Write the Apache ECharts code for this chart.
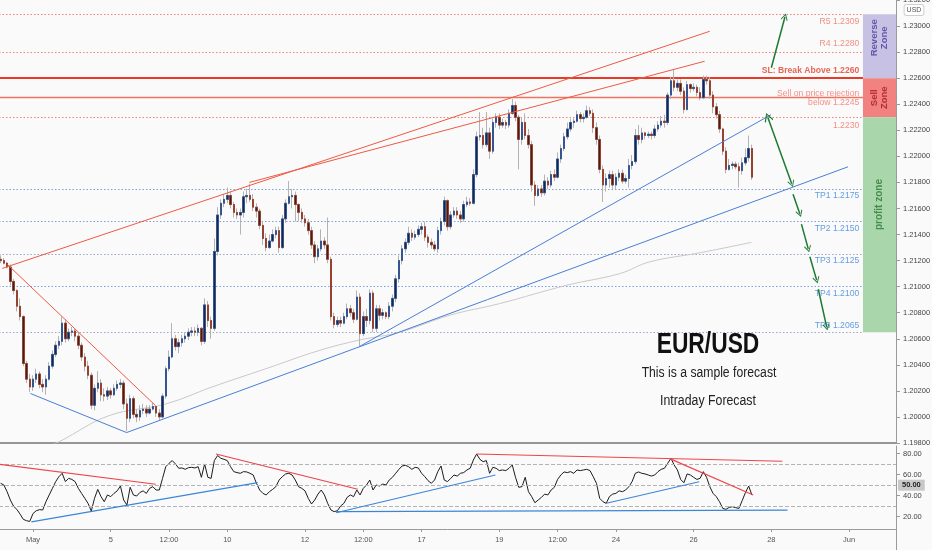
<!DOCTYPE html>
<html>
<head>
<meta charset="utf-8">
<title>EUR/USD</title>
<script src="https://cdn.jsdelivr.net/npm/echarts@6/dist/echarts.min.js"></script>
<style>
html,body{margin:0;padding:0;background:#fafafa;}
#chart{width:932px;height:550px;}
</style>
</head>
<body>
<div id="chart"></div>
<script>
// ---------------- data ----------------
const slotCount = 277;
const xTickLabels = [[10,'May'],[34,'5'],[52,'12:00'],[70,'10'],[94,'12'],[112,'12:00'],[130,'17'],[154,'19'],[172,'12:00'],[190,'24'],[214,'26'],[238,'28'],[262,'Jun']];
const rsiTicks = [20,40,60,80];
const rsiBands = [70,50,30];

// [open, close, low, high]  (2h candles)
const candles = [
[1.2121,1.2120,1.2118,1.2124],[1.2120,1.2118,1.2117,1.2122],[1.2118,1.2115,1.2114,1.2119],[1.2115,1.2104,1.2101,1.2117],[1.2104,1.2097,1.2094,1.2106],
[1.2097,1.2085,1.2081,1.2098],[1.2085,1.2077,1.2074,1.2091],[1.2077,1.2041,1.2039,1.2078],[1.2041,1.2029,1.2026,1.2043],[1.2029,1.2023,1.2019,1.2033],
[1.2023,1.2029,1.2020,1.2032],[1.2029,1.2033,1.2026,1.2037],[1.2033,1.2025,1.2022,1.2035],[1.2025,1.2023,1.2019,1.2029],[1.2023,1.2029,1.2017,1.2032],
[1.2029,1.2039,1.2028,1.2042],[1.2039,1.2048,1.2037,1.2051],[1.2048,1.2055,1.2046,1.2058],[1.2055,1.2058,1.2052,1.2062],[1.2058,1.2072,1.2055,1.2077],
[1.2072,1.2060,1.2057,1.2075],[1.2060,1.2065,1.2058,1.2068],[1.2065,1.2066,1.2062,1.2069],[1.2066,1.2062,1.2058,1.2068],[1.2062,1.2055,1.2052,1.2065],
[1.2055,1.2046,1.2043,1.2057],[1.2046,1.2039,1.2035,1.2049],[1.2039,1.2032,1.2029,1.2043],[1.2032,1.2009,1.2006,1.2034],[1.2009,1.2022,1.2005,1.2025],
[1.2022,1.2026,1.2019,1.2035],[1.2026,1.2017,1.2012,1.2029],[1.2017,1.2016,1.2012,1.2022],[1.2016,1.2020,1.2013,1.2023],[1.2020,1.2017,1.2014,1.2022],
[1.2017,1.2022,1.2016,1.2025],[1.2022,1.2025,1.2020,1.2028],[1.2025,1.2026,1.2022,1.2029],[1.2026,1.2010,1.2006,1.2028],[1.2010,1.1999,1.1989,1.2014],
[1.1999,1.2014,1.1996,1.2017],[1.2014,1.2002,1.1999,1.2016],[1.2002,1.2000,1.1996,1.2006],[1.2000,1.2005,1.1997,1.2009],[1.2005,1.2006,1.2002,1.2010],
[1.2006,1.2003,1.2000,1.2009],[1.2003,1.2006,1.2002,1.2009],[1.2006,1.2008,1.2005,1.2011],[1.2008,1.2003,1.2000,1.2009],[1.2003,1.2000,1.1997,1.2006],
[1.2000,1.2016,1.1999,1.2018],[1.2016,1.2037,1.2014,1.2039],[1.2037,1.2046,1.2035,1.2051],[1.2046,1.2060,1.2045,1.2072],[1.2060,1.2054,1.2051,1.2063],
[1.2054,1.2057,1.2049,1.2060],[1.2057,1.2060,1.2054,1.2063],[1.2060,1.2062,1.2057,1.2065],[1.2062,1.2065,1.2059,1.2068],[1.2065,1.2066,1.2062,1.2069],
[1.2066,1.2065,1.2062,1.2069],[1.2065,1.2068,1.2062,1.2071],[1.2068,1.2058,1.2055,1.2069],[1.2058,1.2086,1.2056,1.2091],[1.2086,1.2074,1.2069,1.2089],
[1.2074,1.2068,1.2060,1.2077],[1.2068,1.2127,1.2066,1.2137],[1.2127,1.2155,1.2124,1.2161],[1.2155,1.2164,1.2152,1.2167],[1.2164,1.2167,1.2161,1.2171],
[1.2167,1.2170,1.2164,1.2176],[1.2170,1.2163,1.2160,1.2173],[1.2163,1.2157,1.2153,1.2165],[1.2157,1.2155,1.2152,1.2160],[1.2155,1.2157,1.2140,1.2160],
[1.2157,1.2169,1.2153,1.2173],[1.2169,1.2170,1.2164,1.2175],[1.2170,1.2167,1.2165,1.2179],[1.2167,1.2161,1.2158,1.2171],[1.2161,1.2158,1.2153,1.2164],
[1.2158,1.2147,1.2144,1.2160],[1.2147,1.2137,1.2132,1.2150],[1.2137,1.2130,1.2127,1.2141],[1.2130,1.2135,1.2129,1.2140],[1.2135,1.2140,1.2134,1.2144],
[1.2140,1.2143,1.2137,1.2146],[1.2143,1.2130,1.2126,1.2146],[1.2130,1.2152,1.2129,1.2155],[1.2152,1.2164,1.2149,1.2167],[1.2164,1.2169,1.2163,1.2181],
[1.2169,1.2170,1.2160,1.2175],[1.2170,1.2163,1.2150,1.2173],[1.2163,1.2157,1.2150,1.2164],[1.2157,1.2152,1.2149,1.2160],[1.2152,1.2149,1.2146,1.2155],
[1.2149,1.2143,1.2140,1.2152],[1.2143,1.2132,1.2129,1.2146],[1.2132,1.2123,1.2118,1.2135],[1.2123,1.2129,1.2120,1.2132],[1.2129,1.2135,1.2127,1.2144],
[1.2135,1.2132,1.2129,1.2138],[1.2132,1.2121,1.2118,1.2153],[1.2121,1.2077,1.2074,1.2123],[1.2077,1.2071,1.2068,1.2080],[1.2071,1.2074,1.2069,1.2077],
[1.2074,1.2072,1.2069,1.2077],[1.2072,1.2077,1.2071,1.2080],[1.2077,1.2083,1.2075,1.2087],[1.2083,1.2080,1.2077,1.2086],[1.2080,1.2075,1.2072,1.2083],
[1.2075,1.2092,1.2074,1.2097],[1.2092,1.2064,1.2054,1.2095],[1.2064,1.2077,1.2062,1.2081],[1.2077,1.2074,1.2069,1.2083],[1.2074,1.2095,1.2071,1.2098],
[1.2095,1.2068,1.2065,1.2097],[1.2068,1.2083,1.2065,1.2086],[1.2083,1.2078,1.2074,1.2086],[1.2078,1.2080,1.2075,1.2083],[1.2080,1.2077,1.2075,1.2081],
[1.2077,1.2085,1.2075,1.2088],[1.2085,1.2091,1.2081,1.2094],[1.2091,1.2106,1.2088,1.2109],[1.2106,1.2120,1.2103,1.2124],[1.2120,1.2129,1.2117,1.2132],
[1.2129,1.2134,1.2126,1.2137],[1.2134,1.2141,1.2132,1.2146],[1.2141,1.2138,1.2135,1.2144],[1.2138,1.2140,1.2136,1.2143],[1.2140,1.2144,1.2138,1.2147],
[1.2144,1.2146,1.2140,1.2149],[1.2146,1.2138,1.2135,1.2150],[1.2138,1.2134,1.2130,1.2140],[1.2134,1.2132,1.2129,1.2137],[1.2132,1.2129,1.2127,1.2135],
[1.2129,1.2143,1.2126,1.2146],[1.2143,1.2150,1.2140,1.2153],[1.2150,1.2166,1.2147,1.2169],[1.2166,1.2146,1.2143,1.2167],[1.2146,1.2155,1.2144,1.2158],
[1.2155,1.2158,1.2153,1.2161],[1.2158,1.2155,1.2152,1.2161],[1.2155,1.2152,1.2149,1.2158],[1.2152,1.2163,1.2150,1.2166],[1.2163,1.2165,1.2161,1.2169],
[1.2165,1.2164,1.2162,1.2168],[1.2164,1.2186,1.2163,1.2190],[1.2186,1.2215,1.2184,1.2219],[1.2215,1.2216,1.2212,1.2234],[1.2216,1.2209,1.2206,1.2222],
[1.2209,1.2218,1.2207,1.2234],[1.2218,1.2204,1.2198,1.2222],[1.2204,1.2226,1.2202,1.2229],[1.2226,1.2230,1.2222,1.2233],[1.2230,1.2224,1.2221,1.2233],
[1.2224,1.2226,1.2222,1.2229],[1.2226,1.2224,1.2221,1.2228],[1.2224,1.2233,1.2222,1.2236],[1.2233,1.2239,1.2232,1.2244],[1.2239,1.2230,1.2227,1.2242],
[1.2230,1.2213,1.2190,1.2232],[1.2213,1.2226,1.2209,1.2230],[1.2226,1.2216,1.2213,1.2233],[1.2216,1.2209,1.2206,1.2221],[1.2209,1.2178,1.2173,1.2212],
[1.2178,1.2170,1.2162,1.2181],[1.2170,1.2175,1.2169,1.2178],[1.2175,1.2172,1.2169,1.2178],[1.2172,1.2181,1.2170,1.2186],[1.2181,1.2178,1.2175,1.2184],
[1.2178,1.2186,1.2176,1.2189],[1.2186,1.2184,1.2181,1.2190],[1.2184,1.2198,1.2183,1.2203],[1.2198,1.2206,1.2195,1.2209],[1.2206,1.2215,1.2204,1.2218],
[1.2215,1.2221,1.2213,1.2226],[1.2221,1.2226,1.2219,1.2229],[1.2226,1.2227,1.2222,1.2230],[1.2227,1.2232,1.2226,1.2235],[1.2232,1.2229,1.2226,1.2234],
[1.2229,1.2230,1.2226,1.2233],[1.2230,1.2235,1.2229,1.2239],[1.2235,1.2233,1.2231,1.2238],[1.2233,1.2222,1.2218,1.2236],[1.2222,1.2213,1.2209,1.2226],
[1.2213,1.2190,1.2187,1.2216],[1.2190,1.2178,1.2165,1.2193],[1.2178,1.2183,1.2173,1.2187],[1.2183,1.2186,1.2176,1.2189],[1.2186,1.2178,1.2175,1.2189],
[1.2178,1.2184,1.2175,1.2187],[1.2184,1.2187,1.2181,1.2190],[1.2187,1.2181,1.2179,1.2190],[1.2181,1.2183,1.2179,1.2186],[1.2183,1.2193,1.2176,1.2198],
[1.2193,1.2196,1.2190,1.2201],[1.2196,1.2216,1.2194,1.2221],[1.2216,1.2213,1.2209,1.2224],[1.2213,1.2218,1.2210,1.2222],[1.2218,1.2216,1.2213,1.2219],
[1.2216,1.2217,1.2214,1.2219],[1.2217,1.2216,1.2213,1.2219],[1.2216,1.2221,1.2214,1.2224],[1.2221,1.2224,1.2219,1.2227],[1.2224,1.2227,1.2222,1.2231],
[1.2227,1.2226,1.2222,1.2232],[1.2226,1.2247,1.2224,1.2249],[1.2247,1.2258,1.2244,1.2261],[1.2258,1.2253,1.2250,1.2267],[1.2253,1.2256,1.2250,1.2259],
[1.2256,1.2250,1.2247,1.2259],[1.2250,1.2236,1.2233,1.2253],[1.2236,1.2255,1.2235,1.2258],[1.2255,1.2252,1.2249,1.2256],[1.2252,1.2253,1.2250,1.2256],
[1.2253,1.2249,1.2246,1.2255],[1.2249,1.2245,1.2243,1.2253],[1.2245,1.2259,1.2244,1.2262],[1.2259,1.2258,1.2255,1.2262],[1.2258,1.2247,1.2244,1.2261],
[1.2247,1.2238,1.2233,1.2250],[1.2238,1.2232,1.2229,1.2241],[1.2232,1.2221,1.2218,1.2235],[1.2221,1.2204,1.2201,1.2222],[1.2204,1.2190,1.2187,1.2207],
[1.2190,1.2193,1.2189,1.2198],[1.2193,1.2194,1.2190,1.2196],[1.2194,1.2192,1.2190,1.2196],[1.2192,1.2189,1.2176,1.2195],[1.2189,1.2195,1.2186,1.2199],
[1.2195,1.2199,1.2193,1.2206],[1.2199,1.2206,1.2196,1.2216],[1.2206,1.2184,1.2182,1.2209]
];

const rsi = [
51.8,50.2,43.8,35.9,30.0,27.0,22.5,17.5,16.2,15.5,
23.0,25.7,26.7,26.4,34.3,40.7,47.0,53.4,58.1,61.3,
53.4,56.5,55.5,53.4,47.0,42.2,37.5,32.7,25.4,37.5,
46.0,39.1,34.3,40.7,39.1,42.2,44.6,49.2,35.9,31.1,
48.0,40.7,39.7,43.0,44.6,42.2,47.0,48.6,45.4,45.4,
56.5,67.6,70.8,73.4,70.2,66.1,66.4,65.1,66.7,67.0,
66.4,67.6,57.5,70.2,57.5,56.5,73.4,78.2,75.6,74.6,
73.4,67.6,62.9,62.0,61.3,62.9,62.6,61.3,59.7,51.8,
45.4,42.2,40.7,43.8,46.0,48.6,54.9,58.1,60.7,61.3,
59.7,54.9,48.6,47.0,44.6,37.5,32.1,35.9,41.5,45.4,
40.7,32.7,26.4,24.8,25.7,30.2,32.7,38.4,40.7,39.1,
45.4,40.7,47.0,50.2,54.9,45.4,50.2,49.2,51.1,50.2,
54.9,57.5,61.3,65.1,68.3,68.9,67.6,65.1,67.0,66.4,
61.3,58.1,54.3,51.8,54.9,62.9,68.3,54.9,53.4,56.5,
59.7,58.7,61.3,62.0,64.5,66.1,74.0,79.7,74.6,72.4,
73.4,61.3,67.0,66.1,63.9,64.5,63.9,66.1,69.2,57.5,
48.0,48.6,57.5,43.8,39.1,33.3,35.9,38.4,41.5,40.7,
45.4,48.0,55.5,59.7,62.6,62.0,62.9,61.3,64.5,63.9,
64.5,65.1,63.9,58.1,51.8,37.5,34.3,32.7,39.1,41.5,
42.2,44.6,43.8,45.4,48.6,53.4,61.3,62.6,61.3,60.7,
59.7,58.7,59.7,62.9,65.1,66.1,70.8,75.6,69.2,64.5,
55.5,52.3,60.7,59.7,57.5,55.5,56.5,62.9,57.5,48.6,
42.2,39.1,34.3,27.9,27.0,28.9,29.5,28.6,27.9,35.3,
42.9,49.2,40.7
];

// grey moving average (knots: [slot, price])
const maKnots = [[15.0,1.1978],[18.1,1.1981],[33.5,1.2001],[51.0,1.2010],[65.3,1.2023],[81.9,1.2037],[98.4,1.2051],[110.8,1.2059],[123.2,1.2065],[138.6,1.2078],[154.1,1.2087],[174.7,1.2101],[191.2,1.2110],[200.4,1.2119],[215.9,1.2126],[231.9,1.2134]];

const redTrendLines = [
  [[0.5,1.2114],[219.0,1.2296]],
  [[76.8,1.2180],[217.4,1.2273]],
  [[2.1,1.2117],[47.7,1.2009]]
];
const blueTrendLines = [
  [[9.2,1.2018],[38.9,1.1988]],
  [[38.9,1.1988],[261.7,1.2192]],
  [[110.8,1.2054],[237.9,1.2232]]
];

const levelValues = [1.2309,1.2280,1.2260,1.2245,1.2230,1.2175,1.2150,1.2125,1.2100,1.2065];
const levelTexts = ['R5 1.2309','R4 1.2280','SL: Break Above 1.2260','Sell on price rejection\nbelow 1.2245','1.2230','TP1 1.2175','TP2 1.2150','TP3 1.2125','TP4 1.2100','TP5 1.2065'];

const zoneBounds = [[1.2309,1.2260],[1.2260,1.2230],[1.2230,1.2065]];
const zoneTexts = ['Reverse\nZone','Sell\nZone','profit zone'];
const zoneTextPrices = [1.2291,1.2245,1.2163];

const arrowSegments = [
  [[238.0,1.2268],[242.2,1.2307]],
  [[236.9,1.2230],[244.3,1.2179]],
  [[244.7,1.2171],[246.8,1.2156]],
  [[247.3,1.2148],[249.4,1.2129]],
  [[249.9,1.2123],[252.0,1.2105]],
  [[252.5,1.2098],[255.1,1.2069]]
];

const rsiRedLines = [
  [[-0.5,69.9],[47.9,50.9]],
  [[66.5,79.7],[110.3,46.1]],
  [[146.9,79.7],[241.4,72.8]],
  [[206.8,75.0],[232.4,40.7]]
];
const rsiBlueLines = [
  [[9.5,15.0],[79.4,52.4]],
  [[103.6,23.8],[152.8,59.7]],
  [[103.6,24.8],[243.0,26.2]],
  [[187.1,32.8],[215.7,53.3]]
];

// ---------------- layout / styles ----------------
const zoneStart = 266.3, zoneEnd = 276.5, labelEnd = 265.3, zoneMid = 271.4;
const FONT = 'Liberation Sans, Arial, sans-serif';
const RED = '#ee5a44', BLUE = '#4a7fd4';
const dotRed = {color:'#f08276', type:[1.5,2], width:1, opacity:1};
const dotBlue = {color:'#7f9fdc', type:[1.5,2], width:1, opacity:1};
const dotGrey = {color:'#9aa9c2', type:[1.5,2], width:1, opacity:1};
const levelStyles = [dotRed, dotRed, {color:'#e53b27', type:'solid', width:2, opacity:1}, {color:'#ef735f', type:'solid', width:1.3, opacity:1}, dotRed, dotBlue, dotBlue, dotGrey, dotBlue, dotGrey];
const labelColors = ['#f07466','#f07466','#e0412b','#f07466','#f07466','#3f86d8','#3f86d8','#3f86d8','#3f86d8','#3f86d8'];
const labelWeights = ['normal','normal','bold','normal','normal','normal','normal','normal','normal','normal'];
const labelOffsets = [7,-8,-8,0,8,7,7,7,7,-7];
const zoneColors = ['#c7c1e4','#f2827f','#a9d6ab'];
const zoneTextColors = ['#4b3b9e','#a5161a','#2c7a33'];
const arrowHead = 'path://M10,0 L20,13 L18,14.6 L10,3.6 L2,14.6 L0,13 Z';

const tickMap = new Map(xTickLabels);
const catData = Array.from({length: slotCount}, (_, i) => String(i));
const bodyData = candles.map(([o, c]) => [o, c, Math.min(o, c), Math.max(o, c)]);

const chart = echarts.init(document.getElementById('chart'), null, {renderer: 'canvas'});

const hiddenValueAxis = (g) => ({gridIndex: g, type: 'value', min: -0.5, max: slotCount - 0.5, show: false,
  axisLine: {show: false, onZero: false}, axisTick: {show: false}, axisLabel: {show: false}, splitLine: {show: false}});

const option = {
  animation: false,
  backgroundColor: '#fafafa',
  textStyle: {fontFamily: FONT},
  grid: [
    {left: -1, top: 0, width: 897, height: 443, outerBoundsMode: 'none'},
    {left: -1, top: 446, width: 897, height: 83, outerBoundsMode: 'none'}
  ],
  xAxis: [
    {gridIndex: 0, type: 'category', data: catData, boundaryGap: true,
     axisLine: {show: true, onZero: false, lineStyle: {color: '#959595', width: 2}}, axisTick: {show: false}, axisLabel: {show: false}, splitLine: {show: false}},
    {gridIndex: 1, type: 'category', data: catData, boundaryGap: true,
     axisLine: {show: true, onZero: false, lineStyle: {color: '#9a9a9a', width: 1}},
     axisTick: {show: true, alignWithLabel: true, length: 3, interval: (i) => tickMap.has(i), lineStyle: {color: '#9a9a9a'}},
     axisLabel: {interval: (i) => tickMap.has(i), formatter: (v) => tickMap.get(Number(v)) || '', color: '#555', fontSize: 7.5, margin: 7, fontFamily: FONT},
     splitLine: {show: false}},
    hiddenValueAxis(0),
    hiddenValueAxis(1)
  ],
  yAxis: [
    {gridIndex: 0, type: 'value', position: 'right', min: 1.198, max: 1.232, interval: 0.002,
     axisLine: {show: true, onZero: false, lineStyle: {color: '#9a9a9a'}}, axisTick: {show: true, inside: false, length: 4, lineStyle: {color: '#9a9a9a'}},
     axisLabel: {formatter: (v) => v.toFixed(5), color: '#444', fontSize: 7.5, margin: 7, fontFamily: FONT}, splitLine: {show: false}},
    {gridIndex: 1, type: 'value', position: 'right', min: 8.3, max: 87.3,
     axisLine: {show: true, onZero: false, lineStyle: {color: '#9a9a9a'}}, axisTick: {show: true, inside: false, length: 4, customValues: rsiTicks, lineStyle: {color: '#9a9a9a'}},
     axisLabel: {customValues: rsiTicks, formatter: (v) => v.toFixed(2), color: '#444', fontSize: 7.5, margin: 7, fontFamily: FONT}, splitLine: {show: false}}
  ],
  series: [
    {type: 'line', name: 'MA', xAxisIndex: 2, yAxisIndex: 0, data: maKnots, smooth: 0.4, symbol: 'none',
     lineStyle: {color: '#c8c8c8', width: 1}, z: 2, silent: true},
    {type: 'lines', name: 'levels', coordinateSystem: 'cartesian2d', xAxisIndex: 2, yAxisIndex: 0, z: 2, silent: true,
     data: levelValues.map((v, k) => ({coords: [[-0.5, v], [zoneStart, v]], lineStyle: Object.assign({}, levelStyles[k])}))},
    {type: 'candlestick', name: 'wicks', xAxisIndex: 0, yAxisIndex: 0, data: candles, barWidth: 2, z: 3, silent: true,
     itemStyle: {color: '#b3b3b3', color0: '#b3b3b3', borderColor: '#b3b3b3', borderColor0: '#b3b3b3', borderWidth: 1}},
    {type: 'candlestick', name: 'bodies', xAxisIndex: 0, yAxisIndex: 0, data: bodyData, barWidth: 2, z: 4, silent: true,
     itemStyle: {color: '#1c2744', color0: '#3d2221', borderColor: '#355592', borderColor0: '#97412f', borderWidth: 1}},
    {type: 'lines', name: 'trend', coordinateSystem: 'cartesian2d', xAxisIndex: 2, yAxisIndex: 0, z: 5, silent: true,
     data: redTrendLines.map(s => ({coords: s, lineStyle: {color: RED, width: 1, opacity: 1}}))
       .concat(blueTrendLines.map(s => ({coords: s, lineStyle: {color: BLUE, width: 1, opacity: 1}})))},
    {type: 'scatter', name: 'labels', xAxisIndex: 2, yAxisIndex: 0, z: 6, silent: true, symbolSize: 1,
     itemStyle: {color: 'rgba(0,0,0,0)'},
     data: levelValues.map((v, k) => ({value: [labelEnd, v], label: {show: true, formatter: levelTexts[k], position: 'left', distance: 0,
        offset: [0, labelOffsets[k]], color: labelColors[k], fontWeight: labelWeights[k], fontSize: 8.6, lineHeight: 9, align: 'right', fontFamily: FONT}}))
       .concat(zoneTexts.map((t, k) => ({value: [zoneMid, zoneTextPrices[k]], label: {show: true, formatter: t, position: 'inside', rotate: 90,
        color: zoneTextColors[k], fontWeight: 'bold', fontSize: k === 2 ? 10 : 9.5, lineHeight: 10, fontFamily: FONT}}))),
     markArea: {silent: true, z: 1,
       data: zoneBounds.map((b, k) => [{coord: [zoneStart, b[0]], itemStyle: {color: zoneColors[k], opacity: 1}}, {coord: [zoneEnd, b[1]]}])}},
    {type: 'lines', name: 'arrows', coordinateSystem: 'cartesian2d', xAxisIndex: 2, yAxisIndex: 0, z: 7, silent: true,
     symbol: ['none', arrowHead], symbolSize: [9, 7],
     lineStyle: {color: '#1d7a33', width: 1.5, opacity: 1},
     data: arrowSegments.filter((s, k) => k !== 1).map(s => ({coords: s}))},
    {type: 'lines', name: 'arrow2', coordinateSystem: 'cartesian2d', xAxisIndex: 2, yAxisIndex: 0, z: 7, silent: true,
     symbol: [arrowHead, arrowHead], symbolSize: [9, 7],
     lineStyle: {color: '#1d7a33', width: 1.5, opacity: 1},
     data: [{coords: arrowSegments[1]}]},
    {type: 'line', name: 'RSI', xAxisIndex: 1, yAxisIndex: 1, data: rsi, symbol: 'none', z: 4, silent: true,
     lineStyle: {color: '#1c1c1c', width: 1},
     markLine: {silent: true, symbol: 'none',
       lineStyle: {color: '#b3b3b3', type: 'dashed', width: 1},
       data: rsiBands.map(b => ({yAxis: b, label: b === 50 ? {show: true, position: 'end', distance: 2, formatter: '50.00',
         backgroundColor: '#c8c8c8', color: '#222', fontSize: 7.5, fontWeight: 'bold', padding: [2, 4, 1, 4], fontFamily: FONT} : {show: false}}))}},
    {type: 'lines', name: 'rsiTrend', coordinateSystem: 'cartesian2d', xAxisIndex: 3, yAxisIndex: 1, z: 5, silent: true,
     data: rsiRedLines.map(s => ({coords: s, lineStyle: {color: '#f0434a', width: 1.2, opacity: 1}}))
       .concat(rsiBlueLines.map(s => ({coords: s, lineStyle: {color: '#3d86d6', width: 1.2, opacity: 1}})))}
  ],
  graphic: [
    {type: 'text', x: 708, y: 345, scaleX: 0.76, z: 20, style: {text: 'EUR/USD', fontSize: 30, fontWeight: 'bold', fontFamily: FONT, fill: '#111', align: 'center', verticalAlign: 'middle'}},
    {type: 'text', x: 709, y: 373, scaleX: 0.87, z: 20, style: {text: 'This is a sample forecast', fontSize: 14, fontFamily: FONT, fill: '#222', align: 'center', verticalAlign: 'middle'}},
    {type: 'text', x: 708, y: 401, scaleX: 0.88, z: 20, style: {text: 'Intraday Forecast', fontSize: 14, fontFamily: FONT, fill: '#222', align: 'center', verticalAlign: 'middle'}},
    {type: 'text', x: 914, y: 10, z: 20, style: {text: 'USD', fontSize: 7, fontFamily: FONT, fill: '#555', align: 'center', verticalAlign: 'middle',
      backgroundColor: '#ffffff', borderColor: '#cfcfcf', borderWidth: 1, borderRadius: 2, padding: [2, 2, 1, 2]}},
    {type: 'line', z: 20, shape: {x1: 896.5, y1: 529, x2: 896.5, y2: 550}, style: {stroke: '#9a9a9a', lineWidth: 1}}
  ]
};
chart.setOption(option);
</script>
</body>
</html>
